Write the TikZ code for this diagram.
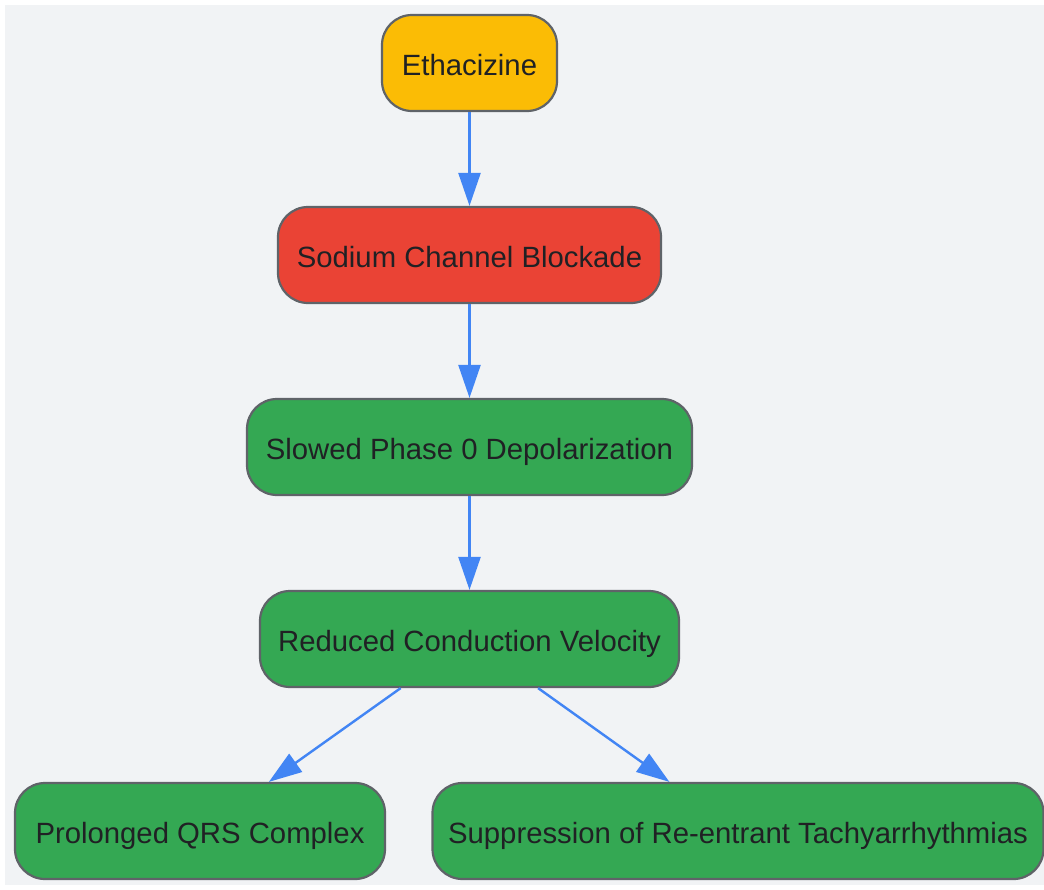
\documentclass[tikz,border=0pt]{standalone}
\usepackage{fontspec}
\setmainfont{Liberation Sans}
\usetikzlibrary{arrows.meta}
\definecolor{bgc}{HTML}{F1F3F5}
\definecolor{yel}{HTML}{FBBC05}
\definecolor{redc}{HTML}{EA4335}
\definecolor{grn}{HTML}{34A853}
\definecolor{bord}{HTML}{5F6368}
\definecolor{arr}{HTML}{4285F4}
\definecolor{txt}{HTML}{202124}
\tikzset{
  box/.style={draw=bord, line width=2.2pt, rounded corners=30pt, minimum height=96pt,
    inner sep=0pt, text=txt, font=\fontsize{29.3}{34}\selectfont,
    text height=24pt, text depth=0pt},
  link/.style={draw=arr, line width=2.4pt, -{Triangle[length=33pt,width=22pt]}}
}
\begin{document}
\begin{tikzpicture}[x=1pt,y=-1pt]
\useasboundingbox (0,0) rectangle (1044,889);
\fill[white] (0,0) rectangle (1044,889);
\fill[bgc] (5,5) rectangle (1044,885);
\node[box, fill=yel, minimum width=175pt] (eth) at (469.5,63) {Ethacizine};
\node[box, fill=redc, minimum width=383pt] (sod) at (469.5,255) {Sodium Channel Blockade};
\node[box, fill=grn, minimum width=445pt] (slo) at (469.5,447) {Slowed Phase 0 Depolarization};
\node[box, fill=grn, minimum width=419pt] (red) at (469.5,639) {Reduced Conduction Velocity};
\node[box, fill=grn, minimum width=370pt] (pro) at (200,831) {Prolonged QRS Complex};
\node[box, fill=grn, minimum width=611pt] (sup) at (738,831) {Suppression of Re-entrant Tachyarrhythmias};
\draw[link] (eth) -- (sod);
\draw[link] (sod) -- (slo);
\draw[link] (slo) -- (red);
\draw[link] (red) -- (pro);
\draw[link] (red) -- (sup);
\end{tikzpicture}
\end{document}
